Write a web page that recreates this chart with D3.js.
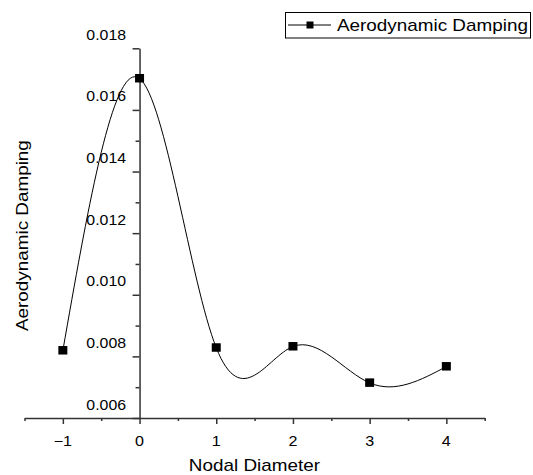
<!DOCTYPE html>
<html><head><meta charset="utf-8">
<script src="https://cdn.jsdelivr.net/npm/d3@7"></script>
<style>body{margin:0;background:#fff} svg{display:block} text{font-family:"Liberation Sans",Arial,sans-serif;fill:#000}</style>
</head><body><svg id="c" width="533" height="475"></svg>
<script>
const nodalDiameter = [-1, 0, 1, 2, 3, 4];
const aeroDamping = [0.00819, 0.01702, 0.00828, 0.00832, 0.00714, 0.00767];
const xTicks = [-1, 0, 1, 2, 3, 4];
const xMinorTicks = [-1.5, -0.5, 0.5, 1.5, 2.5, 3.5, 4.5];
const yTicks = [0.006, 0.008, 0.010, 0.012, 0.014, 0.016, 0.018];
const yMinorTicks = [0.007, 0.009, 0.011, 0.013, 0.015, 0.017];
const seriesName = "Aerodynamic Damping";
const xTitle = "Nodal Diameter";
const yTitle = "Aerodynamic Damping";

const svg = d3.select("#c");
const x = d3.scaleLinear().domain([-1.5, 4.5]).range([24.5, 484.7]);
const y = d3.scaleLinear().domain([0.006, 0.018]).range([418, 48.3]);
const STRETCH = 1.11;
function stretch(sel){
  sel.each(function(){
    const w = this.getComputedTextLength();
    this.setAttribute("textLength", (w*STRETCH).toFixed(2));
    this.setAttribute("lengthAdjust", "spacingAndGlyphs");
  });
}
const axisColor = "#333";

// X axis
const gx = svg.append("g").attr("transform", `translate(0,${y(0.006)})`);
gx.call(d3.axisBottom(x).tickValues(xTicks).tickSize(6).tickSizeOuter(0).tickFormat(""));
gx.append("g").call(d3.axisBottom(x).tickValues(xMinorTicks).tickSize(3).tickSizeOuter(0).tickFormat(""))
  .select(".domain").remove();
gx.selectAll("path,line").attr("stroke", axisColor).attr("stroke-width", 1.5);

// Y axis at x=0
const gy = svg.append("g").attr("transform", `translate(${x(0)},0)`);
gy.call(d3.axisLeft(y).tickValues(yTicks).tickSize(7).tickSizeOuter(0).tickFormat(""));
gy.append("g").call(d3.axisLeft(y).tickValues(yMinorTicks).tickSize(4).tickSizeOuter(0).tickFormat(""))
  .select(".domain").remove();
gy.selectAll("path,line").attr("stroke", axisColor).attr("stroke-width", 1.5);

// tick labels
const fmtY = d3.format(".3f");
svg.append("g").selectAll("text").data(yTicks).join("text")
  .attr("x", x(0) - 13.5).attr("y", d => y(d) - 8.5)
  .attr("text-anchor", "end").attr("font-size", 14.3)
  .text(d => fmtY(d)).call(stretch);
const fmtX = d3.format("d");
svg.append("g").selectAll("text").data(xTicks).join("text")
  .attr("x", d => x(d)).attr("y", 445.5)
  .attr("text-anchor", "middle").attr("font-size", 14.5)
  .text(d => fmtX(d)).call(stretch);

// titles
svg.append("text").attr("x", 254.4).attr("y", 470.5).attr("text-anchor", "middle")
  .attr("font-size", 17).text(xTitle).call(stretch);
svg.append("text").attr("transform", "translate(28,235.6) rotate(-90)").attr("text-anchor", "middle")
  .attr("font-size", 17).text(yTitle).call(stretch);

// curve
const pts = nodalDiameter.map((d, i) => [d, aeroDamping[i]]);
svg.append("path").datum(pts)
  .attr("d", d3.line().x(d => x(d[0])).y(d => y(d[1])).curve(d3.curveNatural))
  .attr("fill", "none").attr("stroke", "#000").attr("stroke-width", 1);

// markers
const ms = 9;
svg.append("g").selectAll("rect").data(pts).join("rect")
  .attr("x", d => x(d[0]) - ms/2).attr("y", d => y(d[1]) - ms/2)
  .attr("width", ms).attr("height", ms - 0.5).attr("fill", "#000");

// legend
const lg = svg.append("g");
lg.append("rect").attr("x", 285.5).attr("y", 12.5).attr("width", 245).attr("height", 25.5)
  .attr("fill", "#fff").attr("stroke", "#000").attr("stroke-width", 1);
lg.append("line").attr("x1", 288).attr("x2", 331).attr("y1", 25).attr("y2", 25)
  .attr("stroke", "#000").attr("stroke-width", 1);
lg.append("rect").attr("x", 306.5).attr("y", 21.5).attr("width", 7).attr("height", 7).attr("fill", "#000");
lg.append("text").attr("x", 337).attr("y", 31).attr("font-size", 17).text(seriesName).call(stretch);
</script>
</body></html>
